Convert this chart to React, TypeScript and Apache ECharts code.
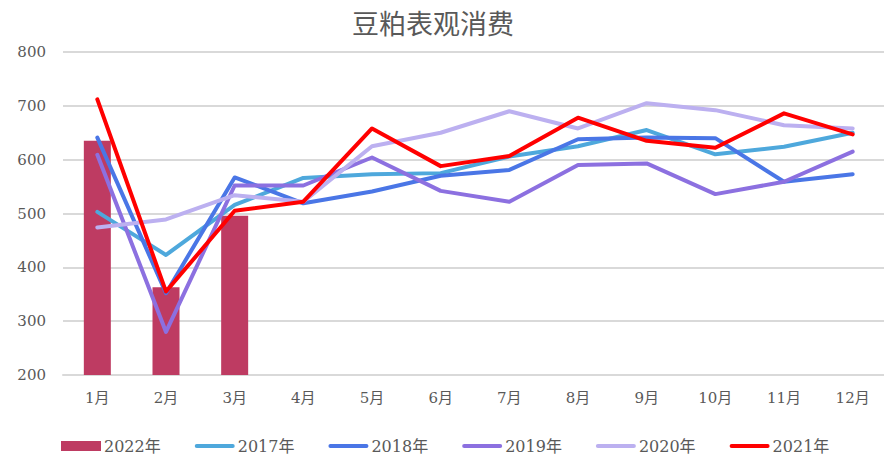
import React, { useEffect, useRef } from "react";
import * as echarts from "echarts";

const months = ["1月", "2月", "3月", "4月", "5月", "6月", "7月", "8月", "9月", "10月", "11月", "12月"];
const s2022 = [635, 363, 496];
const s2017 = [503, 423, 516, 566, 573, 575, 606, 625, 655, 610, 624, 650];
const s2018 = [641, 352, 567, 519, 541, 570, 581, 638, 641, 640, 559, 573];
const s2019 = [609, 280, 552, 552, 604, 542, 522, 590, 593, 536, 559, 615];
const s2020 = [474, 489, 534, 522, 625, 650, 690, 658, 705, 692, 664, 658];
const s2021 = [712, 355, 505, 522, 658, 588, 607, 678, 635, 622, 686, 647];

const serif = "'DejaVu Serif', 'Noto Sans CJK SC', serif";
const lineIcon = "path://M2,0L38,0A2,2,0,0,1,38,4L2,4A2,2,0,0,1,2,0Z";

export default function App() {
  const ref = useRef<HTMLDivElement>(null);
  useEffect(() => {
    if (!ref.current) return;
    const chart = echarts.init(ref.current, undefined, { renderer: "svg" });
    const line = (name: string, data: number[], color: string) => ({
      name,
      type: "line",
      data,
      symbol: "none",
      lineStyle: { color, width: 4, cap: "round", join: "round" },
      itemStyle: { color },
    });
    chart.setOption({
      animation: false,
      title: {
        text: "豆粕表观消费",
        left: 347,
        top: 4,
        textStyle: {
          fontFamily: "'Noto Sans CJK SC', sans-serif",
          fontSize: 27,
          fontWeight: "normal",
          color: "#595959",
        },
      },
      grid: { left: 63, right: 5, top: 52, bottom: 92 },
      legend: {
        bottom: 8,
        left: 56,
        itemWidth: 40,
        itemHeight: 10,
        itemGap: 34,
        textStyle: { fontFamily: serif, fontSize: 16, color: "#595959", padding: [0, 0, 0, -2] },
        data: [
          { name: "2022年", icon: "rect" },
          { name: "2017年", icon: lineIcon },
          { name: "2018年", icon: lineIcon },
          { name: "2019年", icon: lineIcon },
          { name: "2020年", icon: lineIcon },
          { name: "2021年", icon: lineIcon },
        ],
      },
      xAxis: {
        type: "category",
        data: months,
        axisLine: { show: true, lineStyle: { color: "#d9d9d9", width: 2 } },
        axisTick: { show: false },
        axisLabel: { color: "#595959", fontFamily: serif, fontSize: 15, margin: 15 },
      },
      yAxis: {
        type: "value",
        min: 200,
        max: 800,
        interval: 100,
        axisLine: { show: false },
        axisTick: { show: false },
        splitLine: { lineStyle: { color: "#d9d9d9", width: 2 } },
        axisLabel: { color: "#595959", fontFamily: serif, fontSize: 15, margin: 17 },
      },
      series: [
        {
          name: "2022年",
          type: "bar",
          data: s2022,
          barWidth: 27,
          itemStyle: { color: "#BE3B62" },
        },
        line("2017年", s2017, "#4EA8DC"),
        line("2018年", s2018, "#4A76E6"),
        line("2019年", s2019, "#8C70E0"),
        line("2020年", s2020, "#BCB0F0"),
        line("2021年", s2021, "#FF0000"),
      ],
    });
    return () => chart.dispose();
  }, []);
  return <div ref={ref} style={{ width: 892, height: 467, margin: -8 }} />;
}
